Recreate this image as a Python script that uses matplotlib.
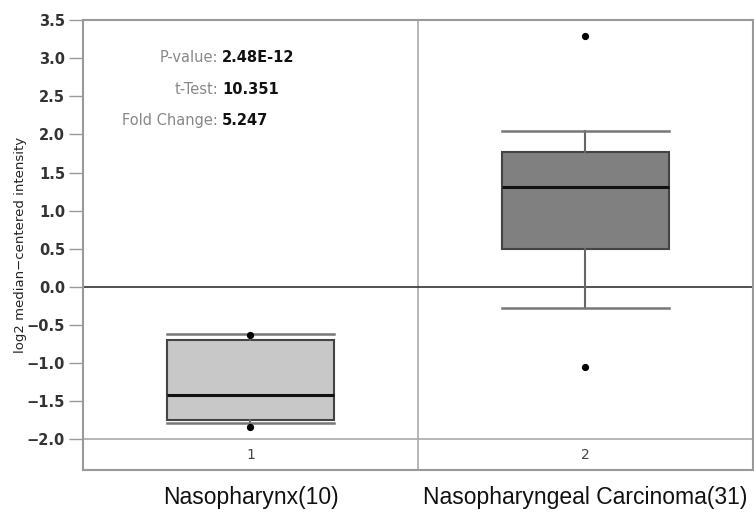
import matplotlib
matplotlib.use("Agg")
import matplotlib.pyplot as plt

# ---- data ----
categories = ["Nasopharynx(10)", "Nasopharyngeal Carcinoma(31)"]
group_ids = ["1", "2"]
q1 = [-1.75, 0.50]
median = [-1.415, 1.307]
q3 = [-0.70, 1.765]
whisker_low = [-1.78, -0.27]
whisker_high = [-0.62, 2.05]
fliers = [[-0.63, -1.83], [3.29, -1.05]]
box_colors = ["#c8c8c8", "#808080"]
stat_names = ["P-value:", "t-Test:", "Fold Change:"]
stat_values = ["2.48E-12", "10.351", "5.247"]
yticks = [3.5, 3.0, 2.5, 2.0, 1.5, 1.0, 0.5, 0.0, -0.5, -1.0, -1.5, -2.0]

fig = plt.figure(figsize=(7.54, 5.14), dpi=100)
ax = fig.add_axes([83/754, 44/514, 670/754, 450/514])

stats = []
for i in range(len(categories)):
    stats.append(dict(q1=q1[i], med=median[i], q3=q3[i],
                      whislo=whisker_low[i], whishi=whisker_high[i],
                      fliers=fliers[i]))
positions = [1, 2]
bp = ax.bxp(stats, positions=positions, widths=0.5, patch_artist=True,
            showfliers=True,
            boxprops=dict(edgecolor="#444444", linewidth=1.5),
            medianprops=dict(color="#111111", linewidth=2.2),
            whiskerprops=dict(color="#666666", linewidth=1.5),
            capprops=dict(color="#777777", linewidth=1.8),
            capwidths=0.5,
            flierprops=dict(marker="o", markerfacecolor="black",
                            markeredgecolor="black", markersize=4.2),
            zorder=3)
for patch, c in zip(bp["boxes"], box_colors):
    patch.set_facecolor(c)

ax.set_xlim(0.5, 2.5)
ax.set_ylim(-2.4, 3.5)

ax.axhline(0.0, color="#333333", linewidth=1.2, zorder=2)
ax.axhline(-2.0, color="#aaaaaa", linewidth=1.2, zorder=2)
ax.axvline(1.5, color="#aaaaaa", linewidth=1.2, zorder=1)

for s in ax.spines.values():
    s.set_color("#999999")
    s.set_linewidth(1.5)

ax.set_yticks(yticks)
ax.set_yticklabels([f"{t:.1f}".replace("-", "\u2212") for t in yticks],
                   fontsize=10.5, color="#333333", fontweight="bold")
ax.tick_params(axis="y", length=10, color="#999999", width=1, pad=3)
ax.set_xticks([])
ax.set_ylabel("log2 median\u2212centered intensity", fontsize=9.5,
              color="#222222", labelpad=0)

for p, g in zip(positions, group_ids):
    ax.text(p, -2.2, g, ha="center", va="center", fontsize=10,
            color="#444444")

ys = [3.01, 2.59, 2.18]
for name, val, y in zip(stat_names, stat_values, ys):
    ax.text(0.903, y, name, ha="right", va="center", fontsize=10.5,
            color="#888888")
    ax.text(0.915, y, val, ha="left", va="center", fontsize=10.5,
            color="#111111", fontweight="bold")

for p, c in zip(positions, categories):
    ax.annotate(c, xy=(p, 0), xycoords=("data", "axes fraction"),
                xytext=(0, -19.5), textcoords="offset points",
                ha="center", va="center", fontsize=16.5,
                family="Liberation Sans", color="#111111",
                annotation_clip=False)

fig.savefig("out.png", dpi=100)
